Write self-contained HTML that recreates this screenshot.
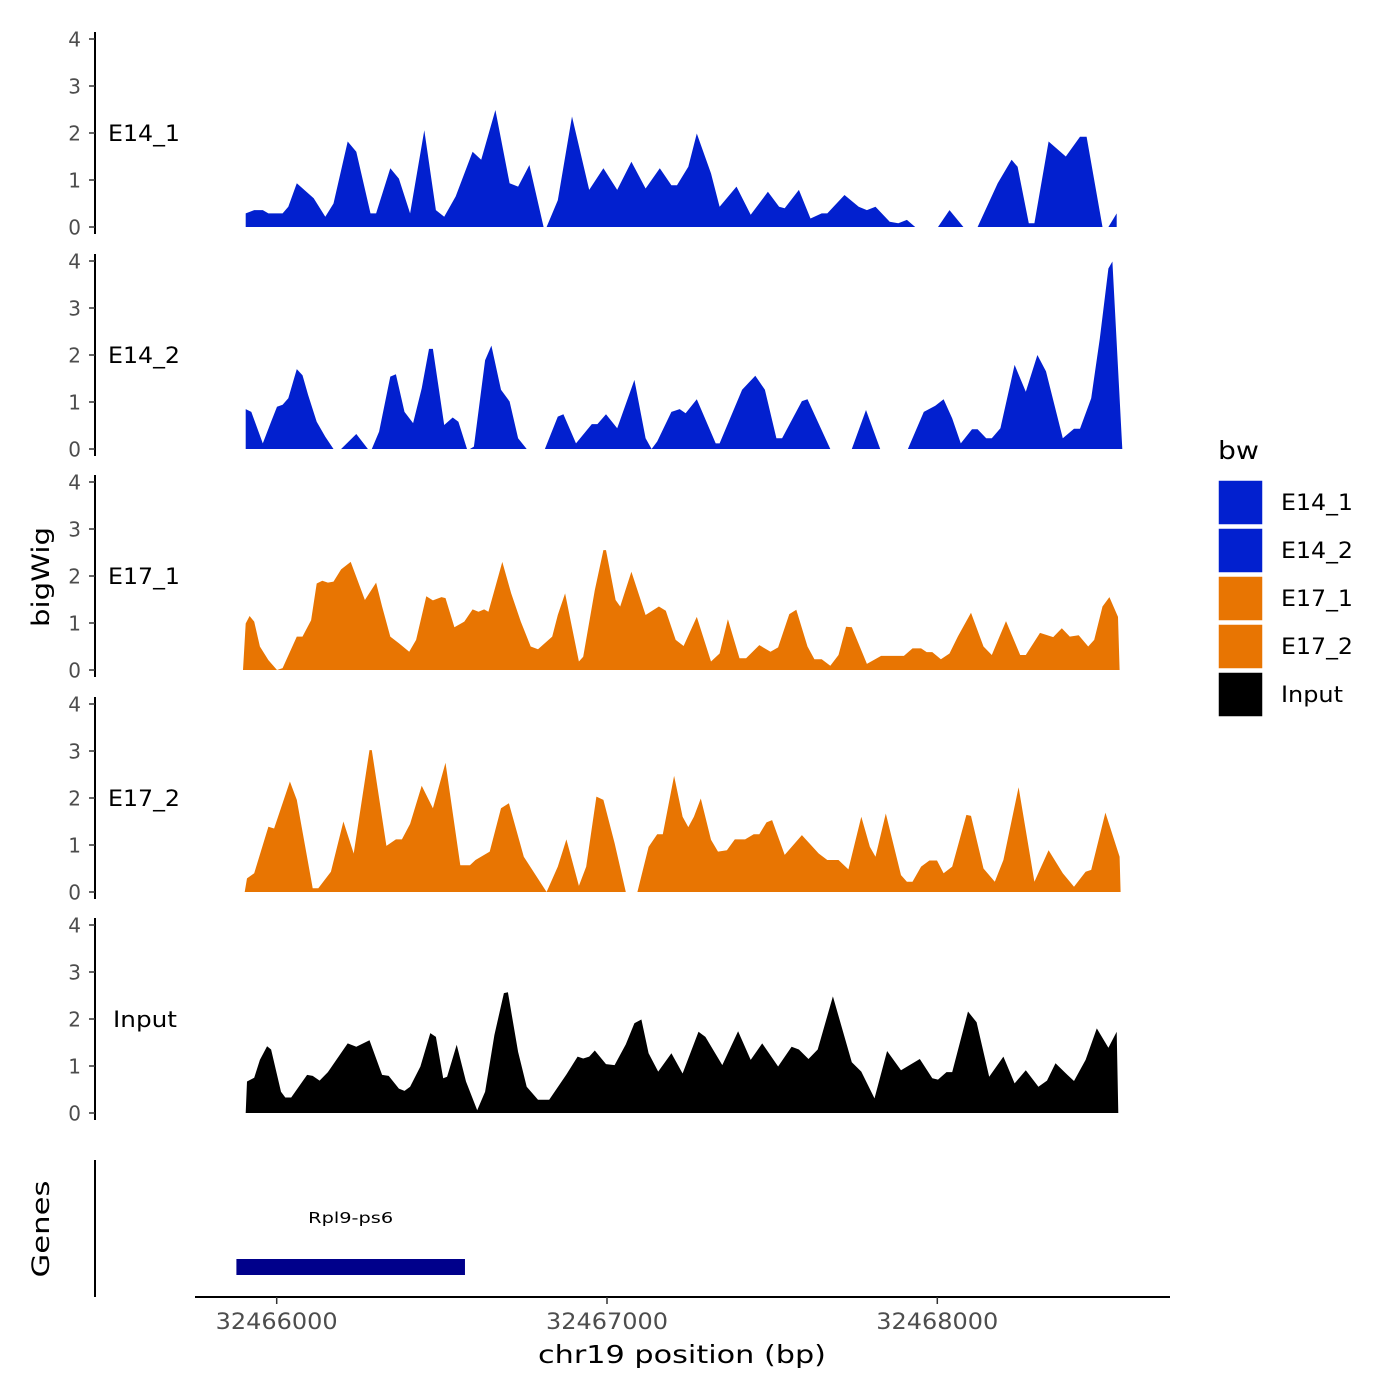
<!DOCTYPE html>
<html><head><meta charset="utf-8"><style>
html,body{margin:0;padding:0;background:#fff;}
svg{display:block;font-family:"DejaVu Sans","Liberation Sans",sans-serif;}
</style></head><body>
<svg id="chart" width="1400" height="1400" viewBox="0 0 1400 1400" xmlns="http://www.w3.org/2000/svg">
<g id="tracks"></g>
<g id="axes"></g>
<text x="42" y="577" transform="rotate(-90 42 577)" font-size="24" textLength="100" lengthAdjust="spacingAndGlyphs" text-anchor="middle" dominant-baseline="middle">bigWig</text>
<text x="42" y="1229" transform="rotate(-90 42 1229)" font-size="24" textLength="97" lengthAdjust="spacingAndGlyphs" text-anchor="middle" dominant-baseline="middle">Genes</text>
<line x1="95" y1="1160" x2="95" y2="1297" stroke="#000" stroke-width="2"/>
<g>
<rect id="geneRect" x="238" y="1259" width="228" height="16" fill="#00008B"/>
<text id="geneLabel" x="352" y="1223" font-size="15" textLength="85" lengthAdjust="spacingAndGlyphs" text-anchor="middle">Rpl9-ps6</text>
</g>
<line x1="195" y1="1297" x2="1170" y2="1297" stroke="#000" stroke-width="2"/>
<g id="xticks"></g>
<text x="682" y="1363" font-size="25" textLength="288" lengthAdjust="spacingAndGlyphs" text-anchor="middle">chr19 position (bp)</text>
<g>
<text x="1218" y="459" font-size="25" textLength="41" lengthAdjust="spacingAndGlyphs">bw</text>
<g id="legendItems"></g>
</g>
</svg>
<script>
const regionStart = 32465889;
const trackNames = ["E14_1","E14_2","E17_1","E17_2","Input"];
const trackColors = ["#0220CF","#0220CF","#E87502","#E87502","#000000"];
const yTicks = [0,1,2,3,4];
const xTicks = [32466000,32467000,32468000];
const geneStart = 32465878, geneEnd = 32466570;

const posE14_1 = [17,43,69,86,129,146,172,223,258,283, 326,352,395,412,455,481,515,558,593,618, 653,704,730,773,816,842,876,919,923,928, 962,1005,1057,1100,1142,1185,1228,1271,1306,1323, 1357,1383,1426,1452,1503,1546,1598,1632,1649,1692, 1727,1761,1778,1830,1873,1898,1924,1967,1993,2019, 2044,2080,2113,2148,2190,2210,2233,2294,2336,2354, 2388,2405,2448,2500,2543,2563,2611,2620,2629,2654];
const valE14_1 = [.29,.36,.36,.29,.29,.43,.93,.61,.22,.5, 1.82,1.6,.29,.29,1.25,1.03,.29,2.06,.36,.22, .65,1.6,1.43,2.49,.93,.86,1.32,0,null,0, .57,2.35,.79,1.25,.79,1.39,.82,1.25,.89,.89, 1.28,1.99,1.14,.43,.86,.26,.75,.43,.4,.79, .18,.29,.29,.68,.43,.36,.43,.11,.08,.15, 0,null,0,.36,0,null,0,.93,1.43,1.28, .08,.08,1.82,1.5,1.92,1.92,0,null,0,.29];

const posE14_2 = [17,34,69,94,112,129,146,172,189,206, 232,258,283,295,306,352,387,392,399,421, 455,472,498,524,550,572,584,618,644,661, 687,691,696,708,742,761,790,816,842,868, 893,923,962,979,1017,1065,1082,1108,1142,1194, 1228,1246,1263,1306,1331,1349,1383,1440,1452,1520, 1560,1589,1624,1641,1701,1718,1787,1821,1852,1895, 1938,1976,2022,2070,2105,2130,2156,2182,2216,2233, 2259,2276,2302,2345,2379,2414,2440,2491,2525,2543, 2577,2603,2629,2641,2671];
const valE14_2 = [.85,.79,.12,.58,.9,.94,1.08,1.7,1.57,1.15, .58,.26,0,null,0,.32,0,null,0,.37, 1.54,1.59,.79,.55,1.29,2.13,2.13,.51,.67,.58, 0,null,0,.05,1.89,2.2,1.26,1.01,.23,0, null,0,.69,.74,.12,.53,.53,.74,.44,1.47, .23,0,.16,.79,.85,.76,1.06,.12,.12,1.26, 1.56,1.26,.23,.23,1.02,1.06,0,null,0,.83, 0,null,0,.79,.92,1.06,.65,.12,.42,.42, .23,.23,.44,1.79,1.22,2.0,1.65,.23,.43,.43, 1.08,2.35,3.84,3.99,0];

const posE17_1 = [9,17,29,43,60,86,112,129,172,189, 215,232,249,266,283,306,335,378,412,430, 455,481,512,533,564,584,610,622,649,679, 704,722,739,752,773,794,821,850,880,902, 945,962,984,1026,1039,1074,1100,1108,1137,1151, 1185,1228,1268,1289,1319,1343,1383,1426,1452,1477, 1512,1532,1572,1606,1629,1663,1684,1718,1739,1761, 1787,1812,1835,1852,1898,1941,2010,2036,2062,2079, 2096,2122,2148,2173,2213,2251,2276,2319,2362,2379, 2422,2462,2488,2512,2539,2568,2586,2611,2632,2658, 2663];
const valE17_1 = [0,.99,1.15,1.03,.5,.21,0,.04,.71,.71, 1.06,1.84,1.9,1.86,1.88,2.14,2.3,1.49,1.86,1.35, .71,.57,.39,.64,1.57,1.48,1.55,1.53,.91,1.03, 1.29,1.24,1.29,1.24,1.77,2.3,1.63,1.03,.5,.44, .71,1.17,1.63,.18,.28,1.7,2.55,2.55,1.49,1.35, 2.09,1.17,1.35,1.26,.64,.51,1.13,.18,.35,1.08, .25,.25,.53,.39,.48,1.19,1.28,.5,.23,.23, .09,.32,.92,.91,.13,.3,.3,.46,.46,.38, .38,.23,.35,.71,1.22,.5,.32,1.04,.32,.32, .79,.7,.89,.71,.74,.5,.64,1.35,1.55,1.13, 0];

const posE17_2 = [14,21,43,86,103,151,172,220,237,275, 313,344,392,399,443,472,490,515,550,584, 622,667,696,713,756,790,814,859,928,962, 988,1026,1048,1079,1100,1134,1168,1185,1203,1237, 1263,1280,1314,1340,1357,1374,1395,1426,1447,1474, 1498,1529,1555,1572,1594,1611,1649,1701,1752,1778, 1812,1842,1881,1907,1924,1955,2001,2019,2036,2062, 2087,2110,2130,2156,2199,2213,2251,2285,2311,2357, 2405,2448,2491,2525,2560,2577,2620,2663,2666];
const valE17_2 = [0,.29,.4,1.39,1.35,2.35,1.96,.08,.08,.43, 1.5,.82,3.02,3.02,.98,1.12,1.12,1.45,2.26,1.78, 2.75,.57,.57,.68,.86,1.78,1.89,.75,0,.54, 1.12,.13,.54,2.03,1.96,1.04,0,null,0,.96, 1.23,1.23,2.47,1.6,1.38,1.6,1.99,1.11,.86,.89, 1.12,1.12,1.23,1.23,1.48,1.53,.79,1.21,.82,.68, .68,.48,1.6,.96,.75,1.67,.36,.22,.22,.54, .67,.67,.4,.54,1.64,1.62,.5,.22,.68,2.23, .22,.89,.4,.11,.43,.47,1.69,.75,0];

const posInput = [17,21,43,60,82,94,124,137,155,203, 220,241,266,326,352,392,430,450,481,498, 515,546,576,593,615,627,656,684,718,742, 770,799,811,842,868,902,936,988,1022,1039, 1057,1074,1108,1134,1168,1194,1215,1237,1266,1306, 1340,1388,1409,1460,1508,1546,1581,1629,1670,1692, 1721,1749,1795,1852,1881,1921,1959,2001,2058,2096, 2113,2139,2156,2204,2230,2268,2311,2345,2379,2417, 2443,2469,2505,2525,2560,2594,2629,2654,2659];
const valInput = [0,.67,.75,1.13,1.42,1.35,.45,.33,.33,.81, .79,.69,.87,1.48,1.41,1.55,.81,.79,.52,.47, .56,.99,1.7,1.62,.74,.77,1.45,.67,.06,.45, 1.66,2.55,2.57,1.3,.56,.28,.28,.82,1.2,1.16, 1.2,1.33,1.04,1.02,1.46,1.91,1.99,1.27,.88,1.27, .84,1.73,1.62,1.02,1.74,1.13,1.48,.99,1.41,1.35, 1.15,1.35,2.48,1.08,.88,.31,1.32,.91,1.15,.74, .71,.87,.87,2.16,1.93,.77,1.2,.63,.91,.56, .69,1.06,.81,.68,1.13,1.8,1.39,1.73,0];

const trackPos = [posE14_1,posE14_2,posE17_1,posE17_2,posInput];
const trackVal = [valE14_1,valE14_2,valE17_1,valE17_2,valInput];

const NS = "http://www.w3.org/2000/svg";
const baseYs = [227,449,670,892,1113];
const pxPerUnit = 47;
function xScale(bp){ return 276.7 + (bp - 32466000) * 0.3303; }
function yScale(t, v){ return baseYs[t] - v * pxPerUnit; }
function mk(tag, attrs, parent){
  const e = document.createElementNS(NS, tag);
  for (const k in attrs) e.setAttribute(k, attrs[k]);
  parent.appendChild(e); return e;
}
const gT = document.getElementById('tracks');
const gA = document.getElementById('axes');
for (let t = 0; t < 5; t++) {
  const pos = trackPos[t], val = trackVal[t];
  let segs = [], cur = [];
  for (let i = 0; i < pos.length; i++) {
    if (val[i] === null) { if (cur.length) segs.push(cur); cur = []; }
    else cur.push([xScale(regionStart + pos[i]), yScale(t, val[i])]);
  }
  if (cur.length) segs.push(cur);
  segs.forEach(function(s){
    let d = 'M' + s[0][0].toFixed(1) + ',' + baseYs[t];
    s.forEach(function(p){ d += 'L' + p[0].toFixed(1) + ',' + p[1].toFixed(1); });
    d += 'L' + s[s.length-1][0].toFixed(1) + ',' + baseYs[t] + 'Z';
    const p = mk('path', {d: d, fill: trackColors[t], 'stroke-linejoin':'round'}, gT);
    
    
  });
  const ax = mk('line', {x1:95, y1: yScale(t,4)-7, x2:95, y2: baseYs[t]+7, stroke:'#000','stroke-width':2}, gA);
  
  
  yTicks.forEach(function(v){
    const y = yScale(t, v);
    const tk = mk('line', {x1:89, y1:y, x2:95, y2:y, stroke:'#333','stroke-width':1.5}, gA);
    
    
    const tl = mk('text', {x:81, y:y+7.5, 'font-size':20, fill:'#4d4d4d', 'text-anchor':'end'}, gA);
    tl.textContent = v;
    
    
  });
  const lbl = mk('text', {x: t===4 ? 113 : 108, y: yScale(t,2)+8, 'font-size':22, textLength: t===4 ? 64 : 72, lengthAdjust:'spacingAndGlyphs'}, gA);
  lbl.textContent = trackNames[t];
  
  
}
const gX = document.getElementById('xticks');
xTicks.forEach(function(v){
  const x = xScale(v);
  const tk = mk('line', {x1:x, y1:1297, x2:x, y2:1304, stroke:'#333','stroke-width':1.5}, gX);
  
  
  const tl = mk('text', {x:x, y:1329, 'font-size':22, fill:'#4d4d4d', 'text-anchor':'middle', textLength:122, lengthAdjust:'spacingAndGlyphs'}, gX);
  tl.textContent = v;
  
  
});
const geneRect = document.getElementById('geneRect');
geneRect.setAttribute('x', xScale(geneStart));
geneRect.setAttribute('width', xScale(geneEnd) - xScale(geneStart));
document.getElementById('geneLabel').setAttribute('x', (xScale(geneStart)+xScale(geneEnd))/2);
const gL = document.getElementById('legendItems');
trackNames.forEach(function(n, i){
  const y = 480 + i*48;
  const r = mk('rect', {x:1218, y:y, width:45, height:45, fill:trackColors[i], stroke:'#fff','stroke-width':1.5}, gL);
  
  
  const t = mk('text', {x:1281, y:y+30, 'font-size':22, textLength: i===4 ? 62 : 72, lengthAdjust:'spacingAndGlyphs'}, gL);
  t.textContent = n;
  
  
});
</script>
</body></html>
